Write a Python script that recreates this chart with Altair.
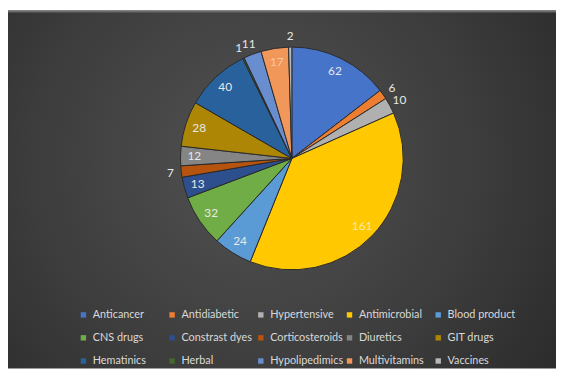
import altair as alt
import pandas as pd

CATEGORIES = ["Anticancer", "Antidiabetic", "Hypertensive", "Antimicrobial", "Blood product",
              "CNS drugs", "Constrast dyes", "Corticosteroids", "Diuretics", "GIT drugs",
              "Hematinics", "Herbal", "Hypolipedimics", "Multivitamins", "Vaccines"]
VALUES = [62, 6, 10, 161, 24, 32, 13, 7, 12, 28, 40, 1, 11, 17, 2]
COLORS = ["#4674C8", "#ED7D31", "#B0B0B0", "#FFC800", "#5B9BD5",
          "#70AD47", "#2D4F8E", "#B5530F", "#858585", "#AD8606",
          "#28619C", "#43682B", "#698ED0", "#F1975A", "#B7B7B7"]

df = pd.DataFrame({"cat": CATEGORIES, "value": VALUES, "idx": list(range(len(VALUES)))})

W, H = 556, 363
CX, CY, R = 288, 150, 113

bg = alt.Chart(alt.Data(values=[{"a": 1}])).mark_rect(
    fill=alt.Gradient(
        gradient="radial",
        stops=[alt.GradientStop(color="#525252", offset=0),
               alt.GradientStop(color="#3c3c3c", offset=0.55),
               alt.GradientStop(color="#262626", offset=1)],
        x1=0.45, y1=0.45, r1=0, x2=0.45, y2=0.45, r2=0.75,
    )
).encode(x=alt.value(0), x2=alt.value(W), y=alt.value(0), y2=alt.value(H))

top_line = alt.Chart(alt.Data(values=[{"a": 1}])).mark_rule(
    color="#6b6b6b", strokeWidth=2
).encode(x=alt.value(0), x2=alt.value(W), y=alt.value(1))

pie = alt.Chart(df).mark_arc(outerRadius=R, stroke="#2a2a2a", strokeWidth=1).encode(
    theta=alt.Theta("value:Q", stack=True),
    order=alt.Order("idx:Q"),
    x=alt.value(CX), y=alt.value(CY),
    color=alt.Color(
        "cat:N",
        sort=CATEGORIES,
        scale=alt.Scale(domain=CATEGORIES, range=COLORS),
        legend=alt.Legend(
            title=None, orient="none", legendX=71, legendY=303,
            columns=5, direction="horizontal", gridAlign="all",
            symbolType="square", symbolSize=30, symbolStrokeWidth=0,
            labelFont="Lato", labelFontSize=11, labelColor="#d9d9d9",
            labelOffset=4, columnPadding=-2, rowPadding=11.5, padding=0,
            labelLimit=200,
        ),
    ),
)

labels = alt.Chart(df).transform_window(
    cum="sum(value)", sort=[alt.SortField("idx", order="ascending")], frame=[None, 0]
).transform_joinaggregate(
    total="sum(value)"
).transform_calculate(
    mid="(datum.cum - datum.value / 2) / datum.total * 2 * PI",
    lr="datum.value <= 11 ? 124 : 99",
    lc="datum.cat == 'Antimicrobial' ? '#ffeaa0' : (datum.cat == 'Multivitamins' ? '#f9c8a4' : '#e8e8e8')",
).mark_text(font="Lato", fontSize=12).encode(
    x=alt.value(CX), y=alt.value(CY),
    theta=alt.Theta("mid:Q", scale=None),
    radius=alt.Radius("lr:Q", scale=None),
    text=alt.Text("value:Q"),
    color=alt.Color("lc:N", scale=None),
)

chart = alt.layer(bg, top_line, pie, labels).properties(
    width=W, height=H, padding=0, autosize=alt.AutoSizeParams(type="none"),
).configure_view(stroke=None)

chart.save("out.html", embed_options={"renderer": "svg", "actions": False})
